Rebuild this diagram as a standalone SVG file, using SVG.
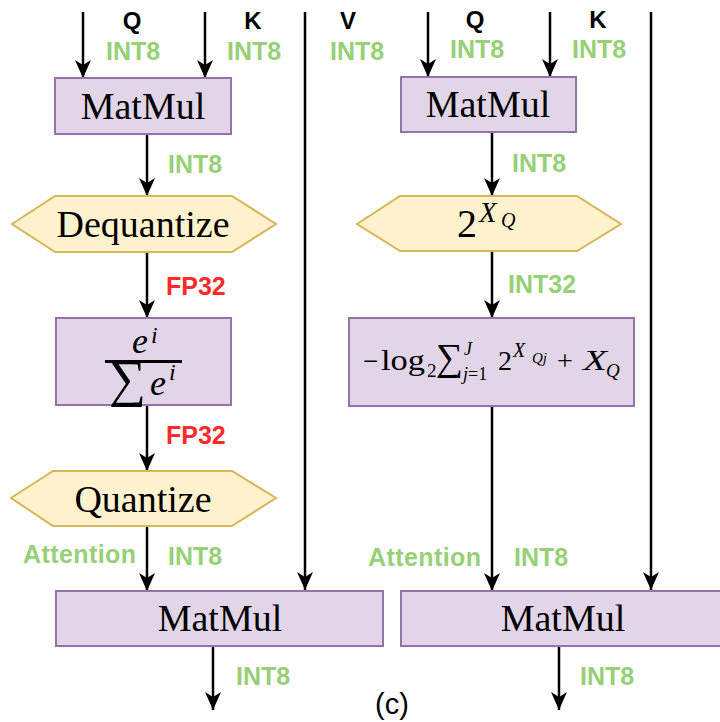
<svg xmlns="http://www.w3.org/2000/svg" width="720" height="722" viewBox="0 0 720 722">
  <style>
    .op { fill: #e1d5e7; stroke: #9673a6; stroke-width: 2; }
    .hex { fill: #fff2cc; stroke: #d6b656; stroke-width: 2; }
    .serif { font-family: "Liberation Serif", "Times New Roman", serif; fill: #000; }
    .it { font-style: italic; }
    .io { font-family: "Liberation Sans", Arial, sans-serif; font-weight: bold; font-size: 24px; fill: #000; }
    .lbl { font-family: "Liberation Sans", Arial, sans-serif; font-weight: bold; font-size: 25px; fill: #97d077; }
    .fp { fill: #ff2a2a; }
    .wire { stroke: #000; stroke-width: 2.5; fill: none; }
    .cap { font-family: "Liberation Sans", Arial, sans-serif; font-size: 29px; fill: #000; }
  </style>
  <defs>
    <marker id="head" markerUnits="userSpaceOnUse" markerWidth="20" markerHeight="18" refX="18" refY="8" orient="auto">
      <path d="M0,0 L18,8 L0,16 L5,8 Z" fill="#000"/>
    </marker>
  </defs>

  <rect width="720" height="722" fill="#fff"/>

  <!-- connectors -->
  <g id="connectors">
    <line class="wire" x1="83" y1="12" x2="83" y2="78" marker-end="url(#head)"/>
    <line class="wire" x1="205" y1="12" x2="205" y2="78" marker-end="url(#head)"/>
    <line class="wire" x1="305" y1="12" x2="305" y2="590" marker-end="url(#head)"/>
    <line class="wire" x1="147" y1="134" x2="147" y2="196" marker-end="url(#head)"/>
    <line class="wire" x1="147" y1="252" x2="147" y2="318" marker-end="url(#head)"/>
    <line class="wire" x1="147" y1="405" x2="147" y2="471" marker-end="url(#head)"/>
    <line class="wire" x1="147" y1="526" x2="147" y2="591" marker-end="url(#head)"/>
    <line class="wire" x1="213" y1="646" x2="213" y2="710" marker-end="url(#head)"/>

    <line class="wire" x1="428" y1="12" x2="428" y2="77" marker-end="url(#head)"/>
    <line class="wire" x1="550" y1="12" x2="550" y2="77" marker-end="url(#head)"/>
    <line class="wire" x1="651" y1="12" x2="651" y2="590" marker-end="url(#head)"/>
    <line class="wire" x1="492" y1="132" x2="492" y2="196" marker-end="url(#head)"/>
    <line class="wire" x1="492" y1="251" x2="492" y2="318" marker-end="url(#head)"/>
    <line class="wire" x1="492" y1="406" x2="492" y2="591" marker-end="url(#head)"/>
    <line class="wire" x1="559" y1="646" x2="559" y2="710" marker-end="url(#head)"/>
  </g>

  <!-- input / edge labels -->
  <g id="labels">
    <text class="io" x="132" y="29" text-anchor="middle">Q</text>
    <text class="io" x="253" y="29" text-anchor="middle">K</text>
    <text class="io" x="348" y="29" text-anchor="middle">V</text>
    <text class="lbl" x="106" y="60">INT8</text>
    <text class="lbl" x="227" y="60">INT8</text>
    <text class="lbl" x="330" y="60">INT8</text>

    <text class="io" x="475" y="28" text-anchor="middle">Q</text>
    <text class="io" x="598" y="28" text-anchor="middle">K</text>
    <text class="lbl" x="450" y="58">INT8</text>
    <text class="lbl" x="572" y="58">INT8</text>

    <text class="lbl" x="168" y="173">INT8</text>
    <text class="lbl fp" x="166" y="295">FP32</text>
    <text class="lbl fp" x="166" y="444">FP32</text>
    <text class="lbl" x="23" y="563" textLength="113">Attention</text>
    <text class="lbl" x="168" y="565">INT8</text>
    <text class="lbl" x="236" y="685">INT8</text>

    <text class="lbl" x="512" y="172">INT8</text>
    <text class="lbl" x="508" y="293">INT32</text>
    <text class="lbl" x="368" y="566" textLength="113">Attention</text>
    <text class="lbl" x="514" y="566">INT8</text>
    <text class="lbl" x="580" y="685">INT8</text>

    <text class="cap" x="375" y="714">(c)</text>
  </g>

  <!-- left branch: quantized softmax -->
  <g id="matmul-qk-left">
    <rect class="op" x="55" y="78" width="176" height="56"/>
    <text class="serif" x="143" y="119" font-size="38" text-anchor="middle">MatMul</text>
  </g>

  <g id="dequantize">
    <polygon class="hex" points="12,224 55,196 232,196 276,224 232,252 55,252"/>
    <text class="serif" x="143" y="237" font-size="38" text-anchor="middle">Dequantize</text>
  </g>

  <g id="softmax">
    <rect class="op" x="56" y="318" width="175" height="87"/>
    <text class="serif it" x="132" y="353" font-size="36">e</text>
    <text class="serif it" x="151" y="343" font-size="24">i</text>
    <line x1="105" y1="361.5" x2="182" y2="361.5" stroke="#000" stroke-width="3"/>
    <text class="serif" x="109" y="396" font-size="52">∑</text>
    <text class="serif it" x="150" y="395" font-size="36">e</text>
    <text class="serif it" x="169" y="380" font-size="24">i</text>
  </g>

  <g id="quantize">
    <polygon class="hex" points="11,498 53,471 232,471 276,498 232,526 53,526"/>
    <text class="serif" x="143" y="512" font-size="38" text-anchor="middle">Quantize</text>
  </g>

  <g id="matmul-av-left">
    <rect class="op" x="56" y="591" width="327" height="55"/>
    <text class="serif" x="220" y="631" font-size="38" text-anchor="middle">MatMul</text>
  </g>

  <!-- right branch: integer log-softmax -->
  <g id="matmul-qk-right">
    <rect class="op" x="401" y="77" width="175" height="55"/>
    <text class="serif" x="488" y="117" font-size="38" text-anchor="middle">MatMul</text>
  </g>

  <g id="pow2">
    <polygon class="hex" points="357,224 400,196 577,196 621,224 577,251 400,251"/>
    <text class="serif" x="457" y="237" font-size="40">2</text>
    <text class="serif it" x="479" y="222" font-size="29">X</text>
    <text class="serif it" x="501" y="227" font-size="20">Q</text>
  </g>

  <g id="log-sum">
    <rect class="op" x="349" y="318" width="285" height="88"/>
    <text class="serif" x="363" y="370" font-size="27">−</text>
    <text class="serif" x="381" y="370" font-size="29" textLength="44" lengthAdjust="spacingAndGlyphs">log</text>
    <text class="serif" x="427" y="377" font-size="19">2</text>
    <text class="serif" x="436" y="370" font-size="38">∑</text>
    <text class="serif it" x="464" y="355" font-size="18">J</text>
    <text class="serif" x="463" y="380" font-size="18"><tspan font-style="italic">j</tspan>=1</text>
    <text class="serif" x="498" y="370" font-size="28">2</text>
    <text class="serif it" x="513" y="357" font-size="20">X</text>
    <text class="serif it" x="532" y="363" font-size="15">Qj</text>
    <text class="serif" x="557" y="370" font-size="28">+</text>
    <text class="serif it" x="583" y="370" font-size="29" textLength="24" lengthAdjust="spacingAndGlyphs">X</text>
    <text class="serif it" x="606" y="377" font-size="19">Q</text>
  </g>

  <g id="matmul-av-right">
    <rect class="op" x="401" y="591" width="330" height="55"/>
    <text class="serif" x="563" y="631" font-size="38" text-anchor="middle">MatMul</text>
  </g>
</svg>
